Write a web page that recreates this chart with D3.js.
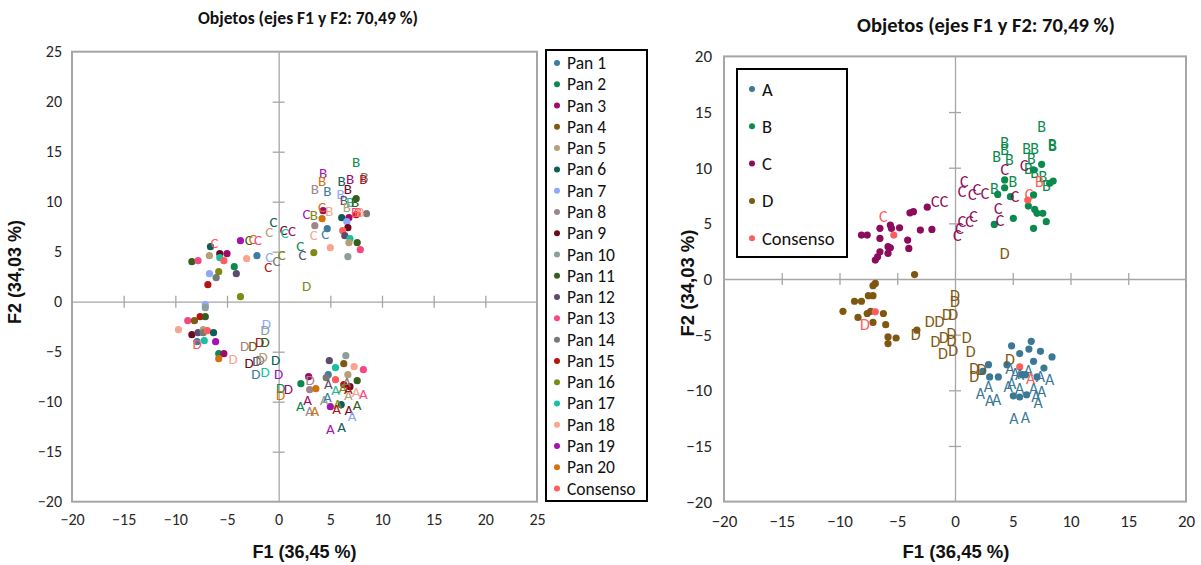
<!DOCTYPE html>
<html><head><meta charset="utf-8">
<script src="https://cdn.jsdelivr.net/npm/d3@7"></script>
<style>
html,body{margin:0;padding:0;background:#fff;}
svg text{font-family:Carlito,Lato,"Open Sans",sans-serif;}
</style></head>
<body>
<svg id="chart" width="1201" height="565"></svg>
<script>
// ---------- DATA ----------
const titleText = "Objetos (ejes F1 y F2: 70,49 %)";
const xTitle = "F1 (36,45 %)";
const yTitle = "F2 (34,03 %)";
const leftTicksX = [-20,-15,-10,-5,0,5,10,15,20,25];
const leftTicksY = [-20,-15,-10,-5,0,5,10,15,20,25];
const rightTicksX = [-20,-15,-10,-5,0,5,10,15,20];
const rightTicksY = [-20,-15,-10,-5,0,5,10,15,20];

const panelNames = ["Pan 1","Pan 2","Pan 3","Pan 4","Pan 5","Pan 6","Pan 7","Pan 8","Pan 9","Pan 10",
  "Pan 11","Pan 12","Pan 13","Pan 14","Pan 15","Pan 16","Pan 17","Pan 18","Pan 19","Pan 20","Consenso"];
const panelColors = ["#3E7CA0","#0B8A50","#9E0B66","#7E5A12","#B89E78","#0C5E57","#8FA8F8","#9E8589","#6E0A1E","#8E9E9C",
  "#355F1C","#5C4C6C","#F54883","#767A72","#B51410","#7E8A12","#18C0A2","#F9A48E","#A412B4","#D2720C","#FF5C5C"];

const groupNames = ["A","B","C","D","Consenso"];
const groupColors = ["#3B7896","#0B8A4C","#8C0B5A","#7E5710","#FF5C5C"];

// Left chart: labelled points [F1, F2, panel (1..21), letter]
const leftLabels = [
  [7.5,14.0,2,"B"],[4.3,12.9,19,"B"],[4.2,12.1,20,"B"],[3.5,11.3,8,"B"],[4.7,11.1,1,"B"],
  [6.1,12.1,6,"B"],[6.9,12.3,3,"B"],[6.7,11.3,9,"B"],[8.3,12.5,14,"B"],[8.2,12.3,15,"B"],
  [6.0,10.8,7,"B"],[6.3,10.2,12,"B"],[6.9,10.0,17,"B"],[7.4,10.0,11,"B"],[6.6,9.5,5,"B"],
  [7.4,9.0,13,"B"],[7.9,9.0,18,"B"],[7.65,9.0,21,"B"],[4.9,9.1,18,"B"],[3.4,8.7,16,"B"],
  [2.7,8.8,19,"C"],[4.2,9.5,20,"C"],[-0.5,8.0,6,"C"],[-0.9,7.0,5,"C"],[0.5,7.2,9,"C"],
  [0.6,6.9,17,"C"],[1.3,7.1,3,"C"],[-6.2,5.9,21,"C"],[-2.9,6.2,11,"C"],[-2.5,6.3,20,"C"],
  [-2.0,6.2,13,"C"],[-0.9,4.5,7,"C"],[0.3,4.7,16,"C"],[-0.2,4.1,14,"C"],[-1.0,3.5,15,"C"],
  [2.1,5.6,2,"C"],[2.3,4.7,12,"C"],[3.4,6.7,18,"C"],[4.5,6.8,1,"C"],
  [2.7,1.6,16,"D"],[-1.2,-2.2,7,"D"],[-1.3,-2.8,10,"D"],[-7.9,-4.2,21,"D"],[-4.4,-5.7,18,"D"],
  [-3.3,-4.4,8,"D"],[-2.5,-4.4,4,"D"],[-1.85,-4.0,15,"D"],[-1.3,-4.0,11,"D"],[-2.85,-6.1,9,"D"],
  [-2.1,-5.9,12,"D"],[-1.8,-5.8,14,"D"],[-1.5,-5.5,5,"D"],[-0.3,-5.8,6,"D"],[-2.2,-7.2,1,"D"],
  [-1.3,-7.0,17,"D"],[0.0,-7.2,19,"D"],[0.2,-8.6,2,"D"],[0.95,-8.7,3,"D"],[0.2,-9.3,20,"D"],
  [3.05,-7.8,8,"D"],
  [4.8,-8.2,12,"A"],[5.5,-8.8,17,"A"],[6.2,-8.6,16,"A"],[6.6,-8.0,14,"A"],[6.75,-9.3,5,"A"],
  [6.75,-8.7,15,"A"],[7.5,-9.0,18,"A"],[8.2,-9.2,13,"A"],[2.1,-10.4,2,"A"],[2.8,-9.8,3,"A"],
  [3.0,-10.9,8,"A"],[3.5,-10.9,20,"A"],[4.4,-9.8,10,"A"],[4.7,-9.5,1,"A"],[5.7,-10.2,16,"A"],
  [5.6,-10.7,15,"A"],[6.8,-10.8,9,"A"],[7.6,-10.3,11,"A"],[7.1,-11.4,7,"A"],[5.0,-12.7,19,"A"],
  [6.1,-12.5,6,"A"]
];
// Left chart: unlabelled points [F1, F2, panel]
const leftDots = [
  [-8.4,4.0,11],[-7.8,4.1,13],[-6.7,4.6,5],[-6.6,5.5,6],[-5.7,4.8,9],[-5.7,4.4,17],[-5.0,4.8,3],
  [-5.3,4.1,21],[-4.3,3.5,2],[-4.1,2.8,12],[-6.7,2.8,7],[-5.8,3.0,16],[-6.05,2.4,14],[-6.85,1.7,15],
  [-3.7,6.1,19],[-3.1,4.3,18],[-2.1,4.6,1],[-3.7,0.5,16],
  [3.5,7.6,8],[4.7,7.3,1],[4.3,9.1,3],[4.2,8.3,20],[5.0,5.4,18],[3.4,4.9,16],[6.1,8.4,6],
  [6.8,8.4,3],[7.5,10.3,11],[7.5,8.7,15],[8.5,8.8,14],[6.6,8.0,7],[6.7,7.4,9],[6.2,7.1,21],
  [6.4,6.6,12],[6.9,6.3,17],[6.8,5.9,5],[7.6,5.9,11],[7.9,5.2,13],[6.7,4.5,10],
  [-7.1,-0.3,7],[-7.1,-0.6,10],[-7.6,-1.5,15],[-7.1,-1.5,11],[-8.8,-1.9,13],[-8.15,-1.9,4],
  [-9.7,-2.8,18],[-8.4,-3.3,9],[-7.8,-3.1,12],[-7.3,-2.8,5],[-7.3,-3.1,14],[-6.9,-2.9,21],
  [-6.3,-3.1,6],[-7.9,-4.0,1],[-7.2,-3.9,17],[-6.1,-4.0,19],[-5.8,-5.2,2],[-5.3,-5.2,3],[-5.8,-5.7,20],
  [2.15,-8.2,2],[2.9,-7.5,3],[3.0,-8.8,8],[3.6,-8.7,20],[4.9,-5.9,12],[6.5,-5.4,10],[6.3,-6.2,4],
  [5.5,-6.6,17],[7.3,-6.5,18],[8.2,-6.8,13],[4.8,-7.3,1],[4.6,-7.6,14],[5.5,-7.8,21],[6.7,-7.3,5],
  [7.6,-7.9,11],[5.0,-10.5,19],[6.05,-10.3,6],[6.3,-8.3,15],[6.9,-8.5,9]
];

// Right chart: labelled points [F1, F2, group (0..4), letter]
const rightLabels = [
  [7.5,13.7,1,"B"],[4.3,12.3,1,"B"],[4.3,11.6,1,"B"],[3.6,11.0,1,"B"],[4.7,10.75,1,"B"],
  [6.2,11.7,1,"B"],[6.9,11.7,1,"B"],[8.4,12.1,1,"B"],[8.45,12.0,1,"B"],[6.6,10.8,1,"B"],
  [6.35,9.9,1,"B"],[6.9,9.6,1,"B"],[7.6,9.2,1,"B"],[7.9,8.4,1,"B"],[3.4,8.15,1,"B"],[5.0,8.8,1,"B"],
  [7.3,8.75,4,"B"],
  [4.3,9.8,2,"C"],[6.0,10.2,2,"C"],[0.8,8.75,2,"C"],[0.6,7.85,2,"C"],[1.9,8.0,2,"C"],[2.6,7.7,2,"C"],
  [1.5,7.6,2,"C"],[5.2,7.4,2,"C"],[3.75,6.35,2,"C"],[3.9,5.3,2,"C"],[1.6,5.6,2,"C"],[1.25,5.15,2,"C"],
  [0.6,5.15,2,"C"],[0.4,4.55,2,"C"],[0.2,3.95,2,"C"],[-0.95,6.95,2,"C"],[-1.7,6.95,2,"C"],
  [-6.2,5.6,4,"C"],[6.4,7.6,4,"C"],
  [4.3,2.3,3,"D"],[0,-1.45,3,"D"],[0,-2.0,3,"D"],[-0.7,-3.2,3,"D"],[-0.15,-3.2,3,"D"],
  [-2.2,-3.8,3,"D"],[-1.35,-3.8,3,"D"],[-3.4,-5.0,3,"D"],[-0.3,-4.9,3,"D"],[-0.3,-5.5,3,"D"],
  [-0.95,-5.3,3,"D"],[1.0,-5.3,3,"D"],[-1.7,-5.6,3,"D"],[-1.05,-6.7,3,"D"],[-0.15,-6.4,3,"D"],
  [1.35,-6.5,3,"D"],[4.75,-7.2,3,"D"],[1.65,-8.0,3,"D"],[2.3,-8.1,3,"D"],[1.65,-8.8,3,"D"],
  [-7.8,-4.1,4,"D"],
  [4.75,-8.0,0,"A"],[5.2,-8.5,0,"A"],[5.6,-8.6,0,"A"],[6.35,-8.2,0,"A"],[7.4,-8.8,0,"A"],
  [8.2,-9.0,0,"A"],[4.6,-9.7,0,"A"],[4.9,-9.4,0,"A"],[5.6,-9.8,0,"A"],[6.8,-9.8,0,"A"],
  [7.5,-10.1,0,"A"],[7.0,-10.6,0,"A"],[7.2,-11.1,0,"A"],[2.9,-9.7,0,"A"],[2.2,-10.3,0,"A"],
  [3.0,-10.9,0,"A"],[3.6,-10.8,0,"A"],[5.1,-12.5,0,"A"],[6.1,-12.4,0,"A"],
  [6.55,-8.9,4,"A"]
];
// Right chart: unlabelled points [F1, F2, group]
const rightDots = [
  [7.5,10.3,1],[4.3,8.9,1],[4.3,8.2,1],[6.8,9.8,1],[8.5,8.8,1],[8.2,8.6,1],[3.7,7.6,1],[4.8,7.4,1],
  [6.8,7.55,1],[6.35,6.55,1],[6.9,6.25,1],[7.1,5.9,1],[7.6,5.9,1],[5.05,5.45,1],[3.4,4.9,1],
  [7.9,5.15,1],[6.8,4.55,1],[6.3,7.1,4],
  [-2.4,6.45,2],[-3.6,6.05,2],[-3.9,5.95,2],[-5.6,4.85,2],[-4.8,4.6,2],[-5.5,4.55,2],[-3.0,4.4,2],
  [-2.0,4.45,2],[-6.5,4.55,2],[-7.6,3.95,2],[-8.1,3.95,2],[-6.5,3.65,2],[-4.1,3.5,2],[-5.8,2.9,2],
  [-5.6,2.8,2],[-4.0,2.75,2],[-6.5,2.45,2],[-5.8,2.3,2],[-6.7,2.0,2],[-6.9,1.7,2],[-5.3,3.95,4],
  [-3.5,0.4,3],[-6.9,-0.4,3],[-7.1,-0.6,3],[-7.5,-1.5,3],[-7.1,-1.5,3],[-8.7,-2.0,3],[-8.1,-2.0,3],
  [-9.7,-2.9,3],[-8.4,-3.45,3],[-7.6,-3.1,3],[-7.3,-2.9,3],[-6.2,-3.1,3],[-7.1,-3.9,3],[-6.0,-4.1,3],
  [-5.8,-5.2,3],[-5.1,-5.3,3],[-5.8,-5.8,3],[-3.3,-4.6,3],[-6.9,-2.95,4],
  [6.6,-5.6,0],[4.9,-6.0,0],[6.4,-6.3,0],[7.4,-6.5,0],[5.6,-6.7,0],[8.4,-7.0,0],[6.8,-7.4,0],
  [2.9,-7.7,0],[4.5,-7.7,0],[7.7,-8.0,0],[2.4,-8.3,0],[3.0,-8.8,0],[3.75,-8.8,0],[5.8,-8.6,0],
  [6.1,-8.6,0],[7.1,-8.8,0],[5.05,-10.5,0],[5.6,-10.6,0],[6.2,-10.4,0],[5.6,-7.9,4]
];

// ---------- DRAW ----------
const svg = d3.select("#chart");
svg.append("rect").attr("width",1201).attr("height",565).attr("fill","#fff");

function drawPanel(cfg){
  const g = svg.append("g");
  const x = d3.scaleLinear().domain(cfg.xDomain).range([cfg.left, cfg.right]);
  const y = d3.scaleLinear().domain(cfg.yDomain).range([cfg.bottom, cfg.top]);

  // frame
  g.append("rect").attr("x",cfg.left).attr("y",cfg.top)
    .attr("width",cfg.right-cfg.left).attr("height",cfg.bottom-cfg.top)
    .attr("fill","none").attr("stroke","#A6A6A6").attr("stroke-width",2);

  // zero axes with crossing ticks
  const ax = g.append("g").attr("transform",`translate(0,${y(0)})`)
    .call(d3.axisBottom(x).tickValues(cfg.ticksX.filter(v=>v>cfg.xDomain[0]&&v<cfg.xDomain[1]&&v!==0))
      .tickSizeInner(6).tickSizeOuter(0).tickFormat(""));
  ax.select(".domain").attr("stroke","#A6A6A6").attr("stroke-width",1.3);
  ax.selectAll(".tick line").attr("y1",-6).attr("y2",6).attr("stroke","#A6A6A6").attr("stroke-width",1.3);
  const ay = g.append("g").attr("transform",`translate(${x(0)},0)`)
    .call(d3.axisLeft(y).tickValues(cfg.ticksY.filter(v=>v>cfg.yDomain[0]&&v<cfg.yDomain[1]&&v!==0))
      .tickSizeInner(6).tickSizeOuter(0).tickFormat(""));
  ay.select(".domain").attr("stroke","#A6A6A6").attr("stroke-width",1.3);
  ay.selectAll(".tick line").attr("x1",-6).attr("x2",6).attr("stroke","#A6A6A6").attr("stroke-width",1.3);

  // tick labels on frame
  const bx = g.append("g").attr("transform",`translate(0,${cfg.bottom})`)
    .call(d3.axisBottom(x).tickValues(cfg.ticksX).tickSize(0).tickPadding(cfg.xPad).tickFormat(d3.format("d")));
  bx.select(".domain").remove();
  bx.selectAll("text").attr("font-size",cfg.tickFont).attr("fill","#262626")
    .style("font-family","Carlito,Lato,sans-serif");
  const by = g.append("g").attr("transform",`translate(${cfg.left},0)`)
    .call(d3.axisLeft(y).tickValues(cfg.ticksY).tickSize(0).tickPadding(cfg.yPad).tickFormat(d3.format("d")));
  by.select(".domain").remove();
  by.selectAll("text").attr("font-size",cfg.tickFont).attr("fill","#262626")
    .style("font-family","Carlito,Lato,sans-serif");

  // titles
  g.append("text").attr("x",cfg.titleX).attr("y",cfg.titleY).attr("text-anchor","middle")
    .attr("font-size",cfg.titleFont).attr("font-weight","bold").attr("fill","#111").text(titleText);
  g.append("text").attr("x",(cfg.left+cfg.right)/2 + cfg.xTitleDx).attr("y",cfg.xTitleY).attr("text-anchor","middle")
    .attr("font-size",cfg.axisFont).attr("font-weight","bold").attr("fill","#111")
    .style("font-family","'Liberation Sans',Arial,sans-serif").text(xTitle);
  g.append("text").attr("transform",`translate(${cfg.yTitleX},${cfg.yTitleY}) rotate(-90)`).attr("text-anchor","middle")
    .attr("font-size",cfg.axisFont).attr("font-weight","bold").attr("fill","#111")
    .style("font-family","'Liberation Sans',Arial,sans-serif").text(yTitle);

  // points
  g.append("g").selectAll("circle").data(cfg.dots).join("circle")
    .attr("cx",d=>x(d[0])).attr("cy",d=>y(d[1])).attr("r",3.6)
    .attr("fill",d=>cfg.color(d[2]));
  g.append("g").selectAll("text").data(cfg.labels).join("text")
    .attr("x",d=>x(d[0])).attr("y",d=>y(d[1])).attr("text-anchor","middle")
    .attr("dominant-baseline","central").attr("font-size",cfg.letterFont)
    .attr("fill",d=>cfg.color(d[2])).text(d=>d[3]);

  // legend
  const lg = g.append("g");
  lg.append("rect").attr("x",cfg.legend.x).attr("y",cfg.legend.y).attr("width",cfg.legend.w).attr("height",cfg.legend.h)
    .attr("fill","#fff").attr("stroke","#000").attr("stroke-width",2);
  const items = lg.selectAll("g.it").data(cfg.legend.names).join("g").attr("class","it")
    .attr("transform",(d,i)=>`translate(${cfg.legend.x},${cfg.legend.y0 + i*cfg.legend.step})`);
  items.append("circle").attr("cx",cfg.legend.mx).attr("cy",0).attr("r",3)
    .attr("fill",(d,i)=>cfg.legend.colors[i]);
  items.append("text").attr("x",cfg.legend.tx).attr("y",0).attr("dominant-baseline","central")
    .attr("font-size",cfg.legend.font).attr("fill","#111").text(d=>d);
}

drawPanel({
  xDomain:[-20,25], yDomain:[-20,25], left:72, right:537, top:51.7, bottom:501.7,
  ticksX:leftTicksX, ticksY:leftTicksY, xPad:12, yPad:10, tickFont:16,
  titleX:308, titleY:24, titleFont:17.5, axisFont:18, xTitleDx:0, xTitleY:558, yTitleX:21, yTitleY:272,
  letterFont:15,
  dots:leftDots, labels:leftLabels, color:p=>panelColors[p-1],
  legend:{x:546,y:50,w:101,h:451,y0:63,step:21.28,mx:11,tx:21,font:17.5,names:panelNames,colors:panelColors}
});
drawPanel({
  xDomain:[-20,20], yDomain:[-20,20], left:724, right:1186, top:56.4, bottom:501.6,
  ticksX:rightTicksX, ticksY:rightTicksY, xPad:13, yPad:12, tickFont:17,
  titleX:986, titleY:32, titleFont:20.5, axisFont:18.5, xTitleDx:1, xTitleY:558, yTitleX:694, yTitleY:283,
  letterFont:16,
  dots:rightDots, labels:rightLabels, color:g=>groupColors[g],
  legend:{x:737,y:69,w:110,h:188,y0:89,step:37.3,mx:15,tx:25,font:18.5,names:groupNames,colors:groupColors}
});
</script>
</body></html>
